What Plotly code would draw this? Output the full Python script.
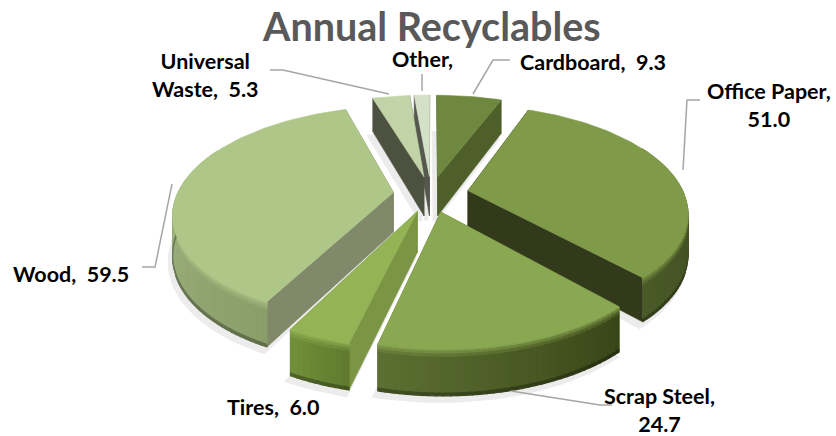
import math
import plotly.graph_objects as go

categories = ["Cardboard", "Office Paper", "Scrap Steel", "Tires", "Wood", "Universal Waste", "Other"]
values = [9.3, 51.0, 24.7, 6.0, 59.5, 5.3, 2.2]
label_texts = ["Cardboard,  9.3", "Office Paper,<br>51.0", "Scrap Steel,<br>24.7", "Tires,  6.0",
               "Wood,  59.5", "Universal<br>Waste,  5.3", "Other,"]
label_x = [593, 769, 659, 273, 71, 205, 422]
label_y = [62, 105, 410, 407, 274, 75, 59]
top_colors = ["#6e8840", "#7f9a48", "#8aa852", "#93b355", "#aec788", "#c3d3a8", "#d5e0c8"]
wall_colors = ["#4f5f2a", "#33391b", "#5a6d30", "#7a9544", "#80896a", "#4d5240", "#55584e"]
rim_start = ["#5e7434", "#2f3a18", "#394518", "#5f7a2e", "#8a9e6a", "#6c7a50", "#8a9478"]
rim_end = ["#4f5f2a", "#4a5a28", "#5c7032", "#72903a", "#b4c99a", "#6c7a50", "#8a9478"]
leaders = [[(473, 94), (493, 60), (510, 60)], [(683, 170), (687, 100), (700, 100)],
           [(511, 391), (600, 405), (612, 405)], [(172, 184), (155, 267), (142, 267)],
           [(389, 94), (283, 70), (270, 70)], [(422, 91), (422, 74)]]
draw_order = [6, 5, 0, 1, 4, 3, 2]

CX, CY, R, RY, K, PULL = 431, 194, 216, 103, 0.19, 0.175


def project(theta, r, mid, z=0.0):
    X = PULL * math.sin(mid) + r * math.sin(theta)
    V = PULL * math.cos(mid) + r * math.cos(theta)
    s = 1 / (1 + K * V)
    return CX + R * X * s, CY - RY * V * s + z * (40 - 6 * V)


def rgb(h):
    return [int(h[i:i + 2], 16) for i in (1, 3, 5)]


def mix(a, b, t):
    ca, cb = rgb(a), rgb(b)
    return "#" + "".join(f"{round(x + (y - x) * t):02x}" for x, y in zip(ca, cb))


def poly(fig, pts, color, name, width=0.6):
    fig.add_trace(go.Scatter(x=[p[0] for p in pts] + [pts[0][0]], y=[p[1] for p in pts] + [pts[0][1]],
                             mode="lines", fill="toself", fillcolor=color, line=dict(color=color, width=width),
                             hoverinfo="text", text=name, showlegend=False))


fig = go.Figure()
total = sum(values)
starts = [sum(values[:i]) / total * 2 * math.pi for i in range(len(values))]
ends = [sum(values[:i + 1]) / total * 2 * math.pi for i in range(len(values))]
ROWS = [(0.0, 0.05, 0.9), (0.05, 0.11, 0.55), (0.11, 0.18, 0.25), (0.18, 0.94, 0.0), (0.94, 1.0, -0.3)]


def angle_list(a0, a1):
    n = max(2, int((a1 - a0) / math.radians(1.5)))
    return [a0 + (a1 - a0) * j / n for j in range(n + 1)], n


for i in draw_order:
    a0, a1 = starts[i], ends[i]
    mid = (a0 + a1) / 2
    angles, n = angle_list(a0, a1)
    shadow = [project(a0, 0, mid, 1)] + [project(a, 1, mid, 1) for a in angles]
    poly(fig, [(x - 3, y + 5) for x, y in shadow], "#ececec", "shadow", 4)

for i in draw_order:
    a0, a1 = starts[i], ends[i]
    mid = (a0 + a1) / 2
    name = categories[i]
    for a in (a0, a1):
        poly(fig, [project(a, 0, mid), project(a, 1, mid), project(a, 1, mid, 1), project(a, 0, mid, 1)],
             wall_colors[i], name)
    angles, n = angle_list(a0, a1)
    for j in range(n):
        b0, b1 = angles[j], angles[j + 1]
        if math.cos((b0 + b1) / 2) > 0.45:
            continue
        base = mix(rim_start[i], rim_end[i], (j + 0.5) / n)
        for z0, z1, glow in ROWS:
            col = mix(base, top_colors[i], glow) if glow >= 0 else mix(base, "#000000", -glow)
            poly(fig, [project(b0, 1, mid, z0), project(b1, 1, mid, z0),
                       project(b1, 1, mid, z1), project(b0, 1, mid, z1)], col, name, 1.2)
    top = [project(a0, 0, mid)] + [project(a, 1, mid) for a in angles]
    poly(fig, top, top_colors[i], name)

for pts in leaders:
    fig.add_trace(go.Scatter(x=[p[0] for p in pts], y=[p[1] for p in pts], mode="lines",
                             line=dict(color="#a6a6a6", width=1.5), hoverinfo="skip", showlegend=False))

for txt, x, y in zip(label_texts, label_x, label_y):
    fig.add_annotation(x=x, y=y, text=txt, showarrow=False, xanchor="center", yanchor="middle",
                       font=dict(family="Lato", size=21.5, color="#000000", weight="bold"))

fig.add_annotation(x=431, y=25, text="Annual Recyclables", showarrow=False, xanchor="center", yanchor="middle",
                   font=dict(family="Lato", size=39.5, color="#595959", weight="bold"))

fig.update_xaxes(range=[0, 836], visible=False, fixedrange=True)
fig.update_yaxes(range=[436, 0], visible=False, fixedrange=True)
fig.update_layout(width=836, height=436, margin=dict(l=0, r=0, t=0, b=0),
                  paper_bgcolor="white", plot_bgcolor="white", showlegend=False)
fig.write_html("out.html", config={"displayModeBar": False},
               post_script="document.body.style.margin='0';document.body.style.overflow='hidden';")
